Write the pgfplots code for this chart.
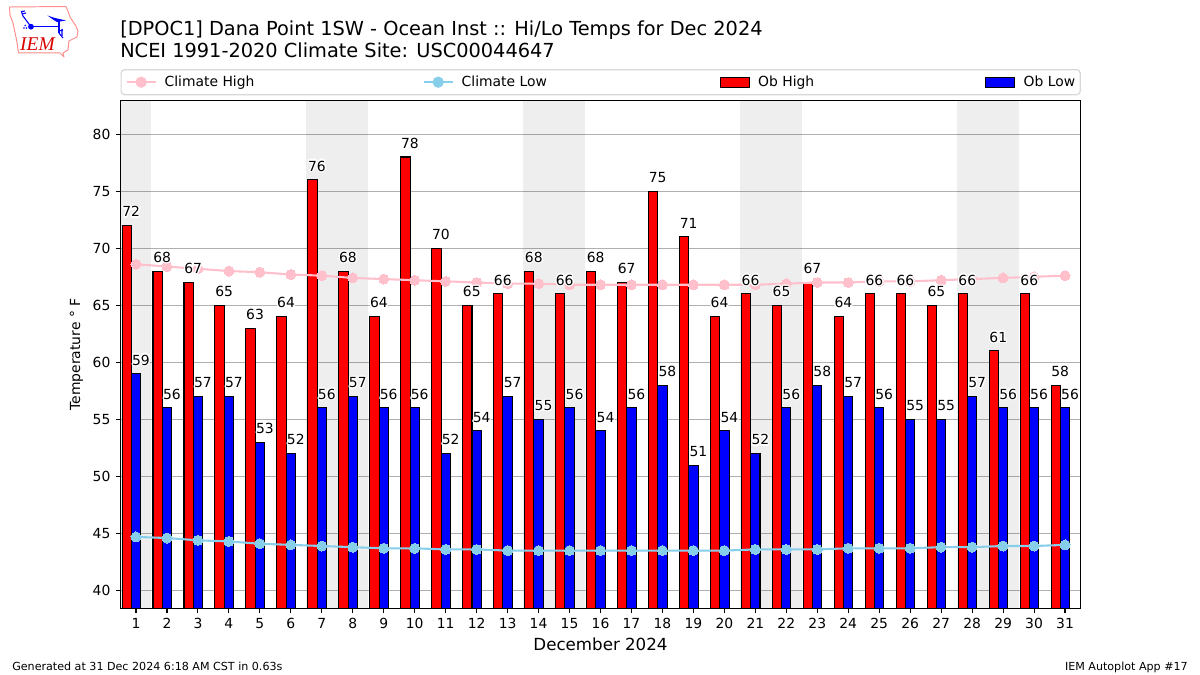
\documentclass[border=0pt]{standalone}
\usepackage{fontspec}
\setmainfont{DejaVu Sans}
\newfontfamily\logofont{Liberation Serif}
\usepackage{pgfplots}
\usepackage{pgfplotstable}
\usepackage{contour}
\pgfplotsset{compat=1.18}
\contourlength{0.9pt}
\contournumber{16}
\definecolor{climhigh}{HTML}{FFC0CB}
\definecolor{climlow}{HTML}{87CEEB}
\definecolor{gridc}{HTML}{B0B0B0}
\definecolor{framec}{HTML}{D8D8D8}
\def\fs#1{\fontsize{#1bp}{#1bp}\selectfont}
\pgfplotstableread{
day high low chigh clow
1 72 59 68.6 44.7
2 68 56 68.4 44.6
3 67 57 68.2 44.4
4 65 57 68.0 44.3
5 63 53 67.9 44.1
6 64 52 67.7 44.0
7 76 56 67.6 43.9
8 68 57 67.4 43.8
9 64 56 67.3 43.7
10 78 56 67.2 43.7
11 70 52 67.1 43.6
12 65 54 67.0 43.6
13 66 57 66.9 43.5
14 68 55 66.9 43.5
15 66 56 66.8 43.5
16 68 54 66.8 43.5
17 67 56 66.8 43.5
18 75 58 66.8 43.5
19 71 51 66.8 43.5
20 64 54 66.8 43.5
21 66 52 66.8 43.6
22 65 56 66.9 43.6
23 67 58 67.0 43.6
24 64 57 67.0 43.7
25 66 56 67.1 43.7
26 66 55 67.1 43.7
27 65 55 67.2 43.8
28 66 57 67.3 43.8
29 61 56 67.4 43.9
30 66 56 67.5 43.9
31 58 56 67.6 44.0
}\datatable
\begin{document}
\begin{tikzpicture}
\useasboundingbox (0,0) rectangle (12in,-6.75in);
% logo
\begin{scope}[x=0.01in,y=-0.01in]
\draw[red!45!white,line width=0.7pt,line join=round] (9.5,7) -- (66,6.5) -- (68,11) -- (70,17) -- (76,26) -- (78,31) -- (77,37) -- (69,41) -- (68,50) -- (63,53) -- (64,57) -- (60,53) -- (18.5,53) -- (17,42) -- (13,23) -- (10,15) -- cycle;
\draw[blue,line width=1pt] (31,26.7) -- (59,26.7);
\draw[blue,line width=1pt] (59,21.5) -- (59,33);
\draw[blue,line width=0.8pt] (31,26.7) -- (23,16) -- (21.5,11.5) -- (25,11);
\draw[blue,line width=0.8pt] (22,14) -- (26,13);
\fill[blue] (31,26.7) circle (2.9);
\fill[blue] (47.5,15.5) -- (55,18) -- (66,20.5) -- (57,22) -- (53,19.5) -- cycle;
\draw[blue,line width=0.8pt] (59,33) -- (63,38);
\draw[blue,line width=0.8pt] (59,31) -- (63,30) (62,29) -- (62,36);
\fill[blue] (24,28) circle (0.9) (26.5,28) circle (0.9) (25.2,25.5) circle (0.9);
\node[anchor=center,inner sep=0pt,text=red!85!black] at (37.5,44.5) {\logofont\itshape\fs{14}IEM};
\end{scope}
% titles
\node[anchor=base west,inner sep=0pt] at (1.2in,-0.35in) {\fs{13.93}[DPOC1] Dana Point 1SW - Ocean Inst :: Hi/Lo Temps for Dec 2024};
\node[anchor=base west,inner sep=0pt] at (1.2in,-0.57in) {\fs{13.93}NCEI 1991-2020 Climate Site: USC00044647};
\node[anchor=base west,inner sep=0pt] at (0.12in,-6.70in) {\fs{8}Generated at 31 Dec 2024 6:18 AM CST in 0.63s};
\node[anchor=base east,inner sep=0pt] at (11.88in,-6.70in) {\fs{8}IEM Autoplot App \#17};
\begin{axis}[
  at={(1.205in,-6.083in)}, anchor=south west,
  scale only axis, width=9.6in, height=5.08in,
  xmin=0.5, xmax=31.5, ymin=38.44, ymax=82.97,
  xtick={1,...,31}, ytick={40,45,...,80},
  tick align=outside, xtick pos=lower, ytick pos=left,
  major tick length=0.048in,
  tick style={black,line width=0.8pt},
  axis line style={black,line width=0.8pt},
  ymajorgrids, grid style={gridc,line width=0.8pt},
  /pgf/number format/assume math mode=true,
  tick label style={font=\fs{10}},
  xticklabel style={inner sep=0pt,yshift=-0.05in},
  yticklabel style={inner sep=0pt,xshift=-0.05in},
  xlabel={December 2024}, ylabel={Temperature °\,\,F},
  xlabel style={font=\fs{12},at={(axis description cs:0.5,-0.0709)},anchor=center},
  ylabel style={font=\fs{10},at={(axis description cs:-0.0458,0.5)},anchor=center},
  legend columns=4,
  legend cell align=left,
  legend style={at={(axis description cs:0,1)},anchor=south west,yshift=0.05in,
    draw=framec,line width=0.9pt,rounded corners=2.5pt,
    inner xsep=0.045in,inner ysep=0pt,minimum height=0.25in,font=\fs{10},
    column sep=0pt,nodes={inner sep=0pt,outer sep=0pt,minimum height=0pt}},
  clip=true,
]
% legend
\addlegendimage{legend image code/.code={
  \path[draw=none,fill=none] (0,0) -- (0.38in,0);
  \draw[climhigh,line width=1.5pt] (0,0) -- (0.29in,0);
  \fill[climhigh] (0.145in,0) circle (0.05in);}}
\addlegendentry{\makebox[2.58in][l]{Climate High}}
\addlegendimage{legend image code/.code={
  \path[draw=none,fill=none] (0,0) -- (0.38in,0);
  \draw[climlow,line width=1.5pt] (0,0) -- (0.29in,0);
  \fill[climlow] (0.145in,0) circle (0.05in);}}
\addlegendentry{\makebox[2.58in][l]{Climate Low}}
\addlegendimage{legend image code/.code={
  \path[draw=none,fill=none] (0,0) -- (0.38in,0);
  \draw[black,fill=red,line width=0.75pt,sharp corners] (0,-0.05in) rectangle (0.29in,0.05in);}}
\addlegendentry{\makebox[2.27in][l]{Ob High}}
\addlegendimage{legend image code/.code={
  \path[draw=none,fill=none] (0,0) -- (0.38in,0);
  \draw[black,fill=blue,line width=0.75pt,sharp corners] (0,-0.05in) rectangle (0.29in,0.05in);}}
\addlegendentry{\makebox[0.52in][l]{Ob Low}}
% weekend shading
\fill[black,opacity=0.067] (axis cs:0.5,38.44) rectangle (axis cs:1.5,82.97);
\fill[black,opacity=0.067] (axis cs:6.5,38.44) rectangle (axis cs:8.5,82.97);
\fill[black,opacity=0.067] (axis cs:13.5,38.44) rectangle (axis cs:15.5,82.97);
\fill[black,opacity=0.067] (axis cs:20.5,38.44) rectangle (axis cs:22.5,82.97);
\fill[black,opacity=0.067] (axis cs:27.5,38.44) rectangle (axis cs:29.5,82.97);
% bars
\addplot[forget plot,ybar,bar width=0.3,bar shift=-0.3,draw=black,fill=red,line width=0.75pt] table[x=day,y=high] {\datatable};
\addplot[forget plot,ybar,bar width=0.3,bar shift=0,draw=black,fill=blue,line width=0.75pt] table[x=day,y=low] {\datatable};
% climate lines
\addplot[forget plot,climhigh,line width=1.5pt,mark=*,mark size=0.05in,mark options={draw=climhigh,fill=climhigh,line width=0pt}] table[x=day,y=chigh] {\datatable};
\addplot[forget plot,climlow,line width=1.5pt,mark=*,mark size=0.05in,mark options={draw=climlow,fill=climlow,line width=0pt}] table[x=day,y=clow] {\datatable};
% value labels
\addplot[forget plot,draw=none,mark=none,nodes near coords={\contour{white}{\pgfmathprintnumber[assume math mode=true]{\pgfplotspointmeta}}},
  every node near coord/.append style={font=\fs{10},anchor=south,inner sep=0pt,xshift=-0.048in,yshift=0.07in,text=black}] table[x=day,y=high,meta=high] {\datatable};
\addplot[forget plot,draw=none,mark=none,nodes near coords={\contour{white}{\pgfmathprintnumber[assume math mode=true]{\pgfplotspointmeta}}},
  every node near coord/.append style={font=\fs{10},anchor=south,inner sep=0pt,xshift=0.05in,yshift=0.07in,text=black}] table[x=day,y=low,meta=low] {\datatable};
\end{axis}
\end{tikzpicture}
\end{document}
